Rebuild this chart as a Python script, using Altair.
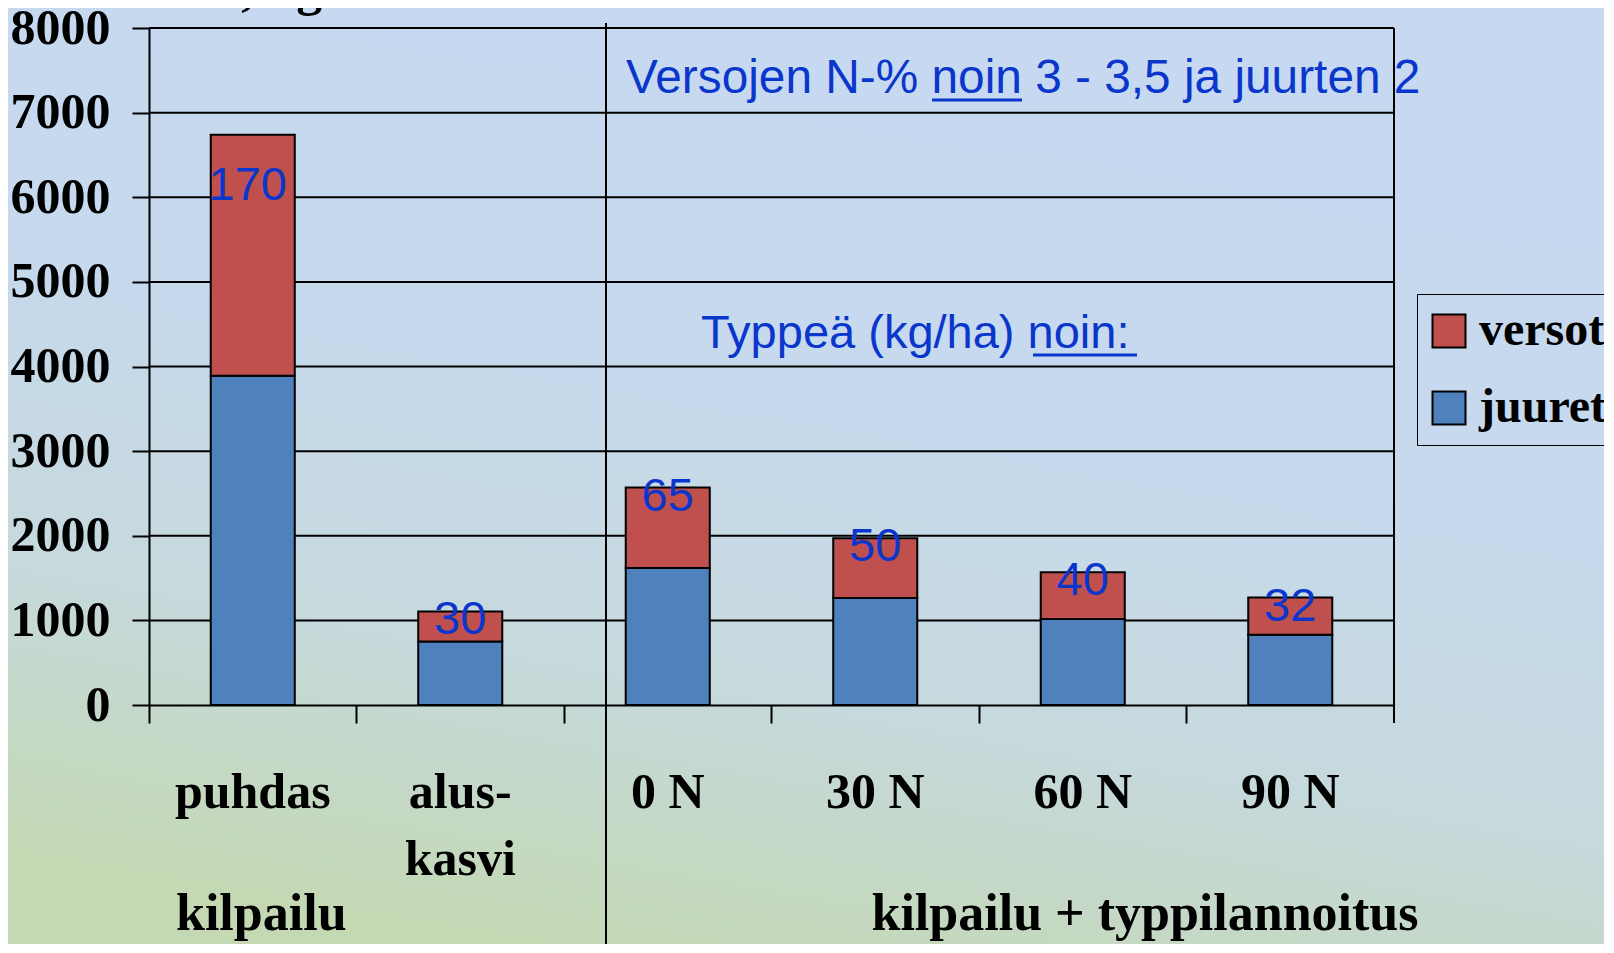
import altair as alt
import pandas as pd

# ---- data ----
categories = ["puhdas", "alus-kasvi", "0 N", "30 N", "60 N", "90 N"]
cat_labels = ["puhdas", "alus-\nkasvi", "0 N", "30 N", "60 N", "90 N"]
juuret = [3890, 750, 1620, 1265, 1015, 830]
versot = [2850, 355, 950, 705, 555, 440]
n_labels = ["170", "30", "65", "50", "40", "32"]
y_ticks = [0, 1000, 2000, 3000, 4000, 5000, 6000, 7000, 8000]
series = ["versot", "juuret"]
series_colors = ["#c0504d", "#4f81bd"]

W, H = 1245, 677
STEP = W / 6
SERIF = "Liberation Serif"
SANS = "Liberation Sans"
BLUE = "#0a36cc"

rows = []
for c, j, v in zip(categories, juuret, versot):
    rows.append({"cat": c, "sarja": "juuret", "value": j, "ord": 0})
    rows.append({"cat": c, "sarja": "versot", "value": v, "ord": 1})
bars_df = pd.DataFrame(rows)
lab_df = pd.DataFrame({"cat": categories,
                       "total": [j + v for j, v in zip(juuret, versot)],
                       "lbl": n_labels})
catlab_df = pd.DataFrame({"cat": categories, "name": cat_labels})
grid_df = pd.DataFrame({"v": y_ticks[1:]})
one = pd.DataFrame({"a": [0]})

xscale = alt.Scale(domain=categories, paddingInner=0.595, paddingOuter=0.2975)
yscale = alt.Scale(domain=[0, 8000], nice=False)

xaxis = alt.Axis(labels=False, title=None, tickOffset=-STEP / 2, tickSize=18,
                 tickWidth=2, tickColor="black", domainColor="black",
                 domainWidth=2, grid=False, zindex=1)
yaxis = alt.Axis(values=y_ticks, format="d", grid=False, tickSize=17,
                 tickWidth=2, tickColor="black", domainColor="black",
                 domainWidth=2, labelFont=SERIF, labelFontSize=50,
                 labelFontWeight="bold", labelColor="black", labelPadding=22,
                 title="Kuiva-ainetta, kg/ha", titleAngle=0, titleAlign="right",
                 titleBaseline="alphabetic", titleX=242, titleY=-24,
                 titleFont=SERIF, titleFontSize=52, titleFontWeight="bold",
                 titleColor="black", zindex=1)

X = alt.X("cat:N", sort=categories, scale=xscale, axis=xaxis)

bg = alt.Chart(one).mark_rect(
    fill=alt.Gradient(gradient="linear",
                      stops=[alt.GradientStop(color="#c6d9f1", offset=0),
                             alt.GradientStop(color="#c6d9ed", offset=0.42),
                             alt.GradientStop(color="#c6d9dc", offset=0.72),
                             alt.GradientStop(color="#c4d8b4", offset=1)],
                      x1=0.65, y1=0, x2=0.35, y2=1)
).encode(x=alt.value(-141), x2=alt.value(1460), y=alt.value(-20), y2=alt.value(920))

grid = alt.Chart(grid_df).mark_rule(color="black", strokeWidth=2).encode(
    y=alt.Y("v:Q", scale=yscale, axis=yaxis))

bars = alt.Chart(bars_df).mark_bar(stroke="black", strokeWidth=2).encode(
    x=X,
    y=alt.Y("value:Q", stack="zero", scale=yscale, axis=yaxis),
    color=alt.Color("sarja:N", scale=alt.Scale(domain=series, range=series_colors),
                    legend=alt.Legend(orient="none", legendX=1268, legendY=266,
                                      title=None, symbolType="square", symbolSize=1089,
                                      symbolStrokeColor="black", symbolStrokeWidth=2,
                                      symbolOpacity=1, symbolOffset=-5,
                                      labelFont=SERIF, labelFontSize=48,
                                      labelFontWeight="bold", labelColor="black",
                                      labelOffset=6, rowPadding=29, padding=13,
                                      strokeColor="black", zindex=1)),
    order=alt.Order("ord:Q"),
)

val_big = alt.Chart(lab_df).transform_filter(alt.datum.cat == "puhdas").mark_text(
    font=SANS, fontSize=47, color=BLUE, baseline="alphabetic", align="center", dy=65, dx=-5
).encode(x=alt.X("cat:N", sort=categories, scale=xscale, axis=xaxis),
         y=alt.Y("total:Q", scale=yscale, axis=yaxis), text="lbl:N")

val_small = alt.Chart(lab_df).transform_filter(alt.datum.cat != "puhdas").mark_text(
    font=SANS, fontSize=47, color=BLUE, baseline="alphabetic", align="center", dy=23
).encode(x=alt.X("cat:N", sort=categories, scale=xscale, axis=xaxis),
         y=alt.Y("total:Q", scale=yscale, axis=yaxis), text="lbl:N")

cat_text = alt.Chart(catlab_df).mark_text(
    font=SERIF, fontSize=50, fontWeight="bold", color="black", align="center",
    baseline="alphabetic", lineBreak="\n", lineHeight=67
).encode(x=alt.X("cat:N", sort=categories, scale=xscale, axis=xaxis),
         y=alt.value(780), text="name:N")

grp1 = alt.Chart(one).mark_text(
    text="kilpailu", font=SERIF, fontSize=52, fontWeight="bold", color="black",
    align="left", baseline="alphabetic").encode(x=alt.value(27), y=alt.value(902))
grp2 = alt.Chart(one).mark_text(
    text="kilpailu + typpilannoitus", font=SERIF, fontSize=52, fontWeight="bold",
    color="black", align="center", baseline="alphabetic").encode(x=alt.value(996), y=alt.value(902))

ann1 = alt.Chart(one).mark_text(
    text="Versojen N-% noin 3 - 3,5 ja juurten 2", font=SANS, fontSize=47.8, color=BLUE,
    align="left", baseline="alphabetic").encode(x=alt.value(477), y=alt.value(65))
ann2 = alt.Chart(one).mark_text(
    text="Typpeä (kg/ha) noin:", font=SANS, fontSize=47, color=BLUE,
    align="left", baseline="alphabetic").encode(x=alt.value(552), y=alt.value(320))
ul1 = alt.Chart(one).mark_rule(color=BLUE, strokeWidth=3).encode(
    x=alt.value(783), x2=alt.value(873), y=alt.value(72))
ul2 = alt.Chart(one).mark_rule(color=BLUE, strokeWidth=3).encode(
    x=alt.value(884), x2=alt.value(988), y=alt.value(327))

divider = alt.Chart(one).mark_rule(color="black", strokeWidth=2).encode(
    x=alt.value(457), y=alt.value(-5), y2=alt.value(920))
right_border = alt.Chart(one).mark_rule(color="black", strokeWidth=2).encode(
    x=alt.value(W), y=alt.value(0), y2=alt.value(H + 18))

chart = alt.layer(
    bg, grid, bars, val_big, val_small, cat_text, grp1, grp2,
    ann1, ann2, ul1, ul2, divider, right_border
).properties(
    width=W, height=H,
    autosize=alt.AutoSizeParams(type="none"),
    padding={"left": 141, "top": 20, "right": 210, "bottom": 239},
    background="#c6d9f1",
).configure_view(stroke=None)

chart.save("out.html", embed_options={"renderer": "svg", "actions": False})
